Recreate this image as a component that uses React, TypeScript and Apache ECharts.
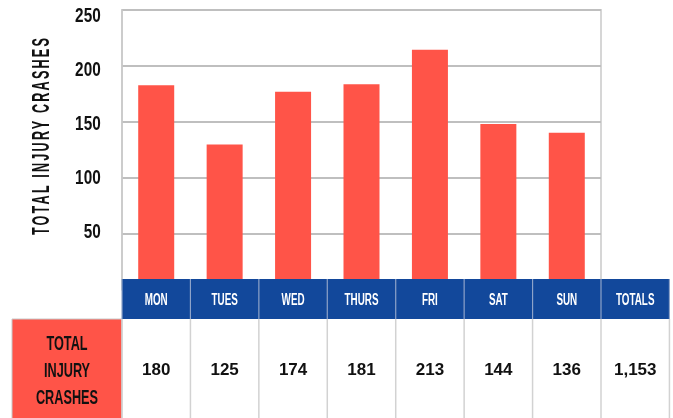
import React, { useEffect, useRef } from 'react';
import * as echarts from 'echarts';

const days = ['MON', 'TUES', 'WED', 'THURS', 'FRI', 'SAT', 'SUN'];
const injuryCrashes = [180, 125, 174, 181, 213, 144, 136];
const totalsHeader = 'TOTALS';
const totalInjuryCrashes = 1153;
const rowLabelLines = ['TOTAL', 'INJURY', 'CRASHES'];
const yAxisTitle = 'TOTAL INJURY CRASHES';
const yTickLabels = [50, 100, 150, 200, 250];
const yMin = 0;
const yMax = 250;
const yInterval = 50;

const W = 673;
const H = 418;
const GRID_LEFT = 122;
const GRID_RIGHT_X = 601;
const GRID_TOP = 10;
const BAR_ZERO_Y = 279;
const GRIDLINE_ZERO_Y = 289.6;
const HEADER_TOP = 279;
const HEADER_BOTTOM = 319;
const TABLE_BOTTOM = 420;
const RED_LEFT = 12;
const COL_W = (GRID_RIGHT_X - GRID_LEFT) / days.length;
const RED = '#FF5448';
const BLUE = '#12489B';
const SANS = "'Liberation Sans', Arial, sans-serif";

function txt(text: string, x: number, y: number, size: number, color: string, scaleX: number, align = 'center', extra: any = {}) {
  return {
    type: 'text',
    x,
    y,
    scaleX,
    z: 110,
    ...extra,
    style: {
      text,
      fill: color,
      fontSize: size,
      fontWeight: 'bold',
      fontFamily: SANS,
      align,
      verticalAlign: 'middle',
      textAlign: align,
      textVerticalAlign: 'middle',
    },
  };
}

export default function App() {
  const ref = useRef<HTMLDivElement>(null);
  useEffect(() => {
    if (!ref.current) return;
    const el = ref.current;
    const chart = echarts.init(el, null, { renderer: 'svg' });
    chart.setOption({
      animation: false,
      grid: [
        {
          left: GRID_LEFT,
          right: W - GRID_RIGHT_X,
          top: GRID_TOP,
          bottom: H - BAR_ZERO_Y,
        },
        {
          left: GRID_LEFT,
          right: W - GRID_RIGHT_X,
          top: GRID_TOP,
          bottom: H - GRIDLINE_ZERO_Y,
          show: true,
          borderColor: '#D6D6D6',
          borderWidth: 2,
        },
      ],
      xAxis: [
        { type: 'category', gridIndex: 0, data: days, axisLine: { show: false }, axisTick: { show: false }, axisLabel: { show: false } },
        { type: 'category', gridIndex: 1, data: days, axisLine: { show: false }, axisTick: { show: false }, axisLabel: { show: false } },
      ],
      yAxis: [
        {
          type: 'value', gridIndex: 0, min: yMin, max: yMax, interval: yInterval,
          axisLine: { show: false }, axisTick: { show: false }, axisLabel: { show: false }, splitLine: { show: false },
        },
        {
          type: 'value', gridIndex: 1, min: yMin, max: yMax, interval: yInterval,
          axisLine: { show: true, lineStyle: { color: '#C8C8C8', width: 1.5 } },
          axisTick: { show: false }, axisLabel: { show: false },
          splitLine: { lineStyle: { color: '#BFBFBF', width: 2 } },
        },
      ],
      series: [
        {
          type: 'bar',
          xAxisIndex: 0,
          yAxisIndex: 0,
          data: injuryCrashes,
          barWidth: 36,
          itemStyle: { color: RED },
          z: 3,
        },
      ],
    });

    const cols = [...days, totalsHeader];
    const values = [...injuryCrashes.map((v) => String(v)), totalInjuryCrashes.toLocaleString('en-US')];
    const graphic: any[] = [];
    graphic.push({
      type: 'rect', z: 100,
      shape: { x: GRID_LEFT, y: HEADER_TOP, width: COL_W * cols.length, height: HEADER_BOTTOM - HEADER_TOP },
      style: { fill: BLUE },
    });
    graphic.push({
      type: 'rect', z: 100,
      shape: { x: GRID_LEFT, y: HEADER_BOTTOM, width: COL_W * cols.length, height: TABLE_BOTTOM - HEADER_BOTTOM },
      style: { fill: '#ffffff' },
    });
    graphic.push({
      type: 'rect', z: 100,
      shape: { x: RED_LEFT, y: HEADER_BOTTOM, width: GRID_LEFT - RED_LEFT, height: TABLE_BOTTOM - HEADER_BOTTOM },
      style: { fill: RED, stroke: '#C8C8C8', lineWidth: 1 },
    });
    for (let i = 0; i <= cols.length; i++) {
      const x = GRID_LEFT + i * COL_W;
      graphic.push({
        type: 'line', z: 105,
        shape: { x1: x, y1: HEADER_TOP, x2: x, y2: HEADER_BOTTOM },
        style: { stroke: '#8EA3C9', lineWidth: 1.2 },
      });
      graphic.push({
        type: 'line', z: 105,
        shape: { x1: x, y1: HEADER_BOTTOM, x2: x, y2: TABLE_BOTTOM },
        style: { stroke: '#D2D2D2', lineWidth: 1.5 },
      });
    }
    cols.forEach((c, i) => {
      const cx = GRID_LEFT + (i + 0.5) * COL_W;
      graphic.push(txt(c, cx, (HEADER_TOP + HEADER_BOTTOM) / 2, 17, '#ffffff', 0.58));
      graphic.push(txt(values[i], cx, 369.5, 17, '#111111', 1));
    });
    rowLabelLines.forEach((l, i) => {
      graphic.push(txt(l, (RED_LEFT + GRID_LEFT) / 2, 343 + i * 27, 20.5, '#111111', 0.62));
    });
    // y-axis tick labels, positioned through the bar axis' scale
    yTickLabels.forEach((v) => {
      const py = chart.convertToPixel({ yAxisIndex: 0 }, v) as number;
      graphic.push(txt(String(v), 100.7, py + 5, 21, '#111111', 0.73, 'right'));
    });
    graphic.push(txt(yAxisTitle, 41, 135.5, 23, '#111111', 0.55, 'center', { rotation: Math.PI / 2, id: 'ytitle' }));
    chart.setOption({ graphic });

    const spaceTitle = () => {
      el.querySelectorAll('text').forEach((t) => {
        if (t.textContent === yAxisTitle) {
          (t as SVGTextElement).style.letterSpacing = '4px';
        }
      });
    };
    spaceTitle();
    chart.on('finished', spaceTitle);
    const tm = setTimeout(spaceTitle, 50);
    return () => {
      clearTimeout(tm);
      chart.dispose();
    };
  }, []);
  return <div ref={ref} style={{ position: 'fixed', left: 0, top: 0, width: W, height: H }} />;
}
